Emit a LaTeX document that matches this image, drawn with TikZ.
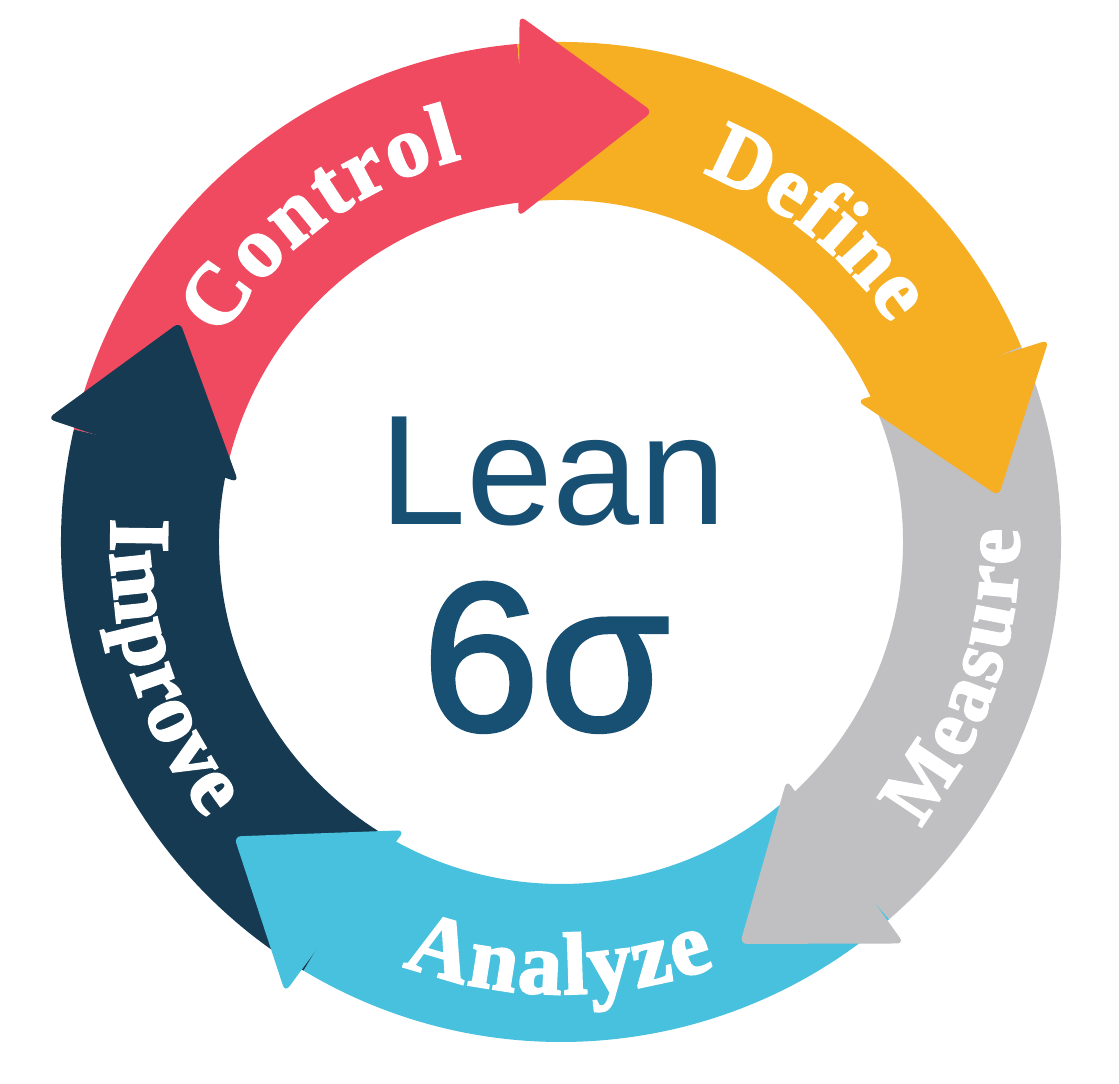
\documentclass[tikz,border=0pt]{standalone}
\usepackage{fontspec}
\setmainfont{Liberation Serif}
\newfontfamily\phasefont{Liberation Serif Bold}[FakeBold=2.5]
\newfontfamily\leanfont{Liberation Sans}
\newfontfamily\sigmafont{Liberation Sans}[FakeBold=2]
\usetikzlibrary{decorations.text}

\definecolor{ctrlred}{RGB}{240,74,97}
\definecolor{defyellow}{RGB}{246,174,35}
\definecolor{measgrey}{RGB}{192,191,194}
\definecolor{anacyan}{RGB}{72,193,222}
\definecolor{impnavy}{RGB}{21,58,82}
\definecolor{leanblue}{RGB}{24,80,115}

\tikzset{
  phase label/.style 2 args={
    decorate,
    decoration={text along path, text align={fit to path}, text color=white,
      text={|\phasefont\fontsize{#1}{#1}\selectfont|#2}}
  },
  centre text/.style={anchor=base, inner sep=0pt, text=leanblue}
}

\begin{document}
\begin{tikzpicture}[
  x=0.02cm,
  y=0.02cm
]
\useasboundingbox (0,0) rectangle (1119,1084);
\fill[white] (0,0) rectangle (1119,1084);

\begin{scope}[shift={(561,542)}]
% ring bodies, each running clockwise up to its own head
\foreach \b/\col in {96/ctrlred, 24/defyellow, -48/measgrey, -120/anacyan, -192/impnavy} {
  \fill[\col] (\b+71:500) arc[start angle=\b+71, end angle=\b-1, radius=500]
    -- (\b-1:342) arc[start angle=\b-1, end angle=\b+71, radius=342] -- cycle;
}
% arrow heads on top of the next body
\foreach \b/\col in {96/ctrlred, 24/defyellow, -48/measgrey, -120/anacyan, -192/impnavy} {
  \fill[\col, rounded corners=4pt] (\b+1.5:328) -- (\b-1.5:528) -- (\b-18:440) -- cycle;
}

% phase names along the ring
\path[phase label={49}{Control}] (149:396) arc[start angle=149, end angle=104.5, radius=396];
\path[phase label={49}{Define}] (69:395) arc[start angle=69, end angle=33.5, radius=395];
\path[phase label={46}{Measure}] (-38.5:458) arc[start angle=-38.5, end angle=1.6, radius=458];
\path[phase label={50}{Analyze}] (249.5:452) arc[start angle=249.5, end angle=289.9, radius=452];
\path[phase label={49}{Improve}] (177:450) arc[start angle=177, end angle=218, radius=450];
\end{scope}

% centre
\node[centre text, font=\leanfont\fontsize{89}{89}\selectfont] (lean) at (553,559) {Lean};
\node[centre text, font=\sigmafont\fontsize{120}{120}\selectfont] (sixsigma) at (546,354) {6σ};
\end{tikzpicture}
\end{document}
